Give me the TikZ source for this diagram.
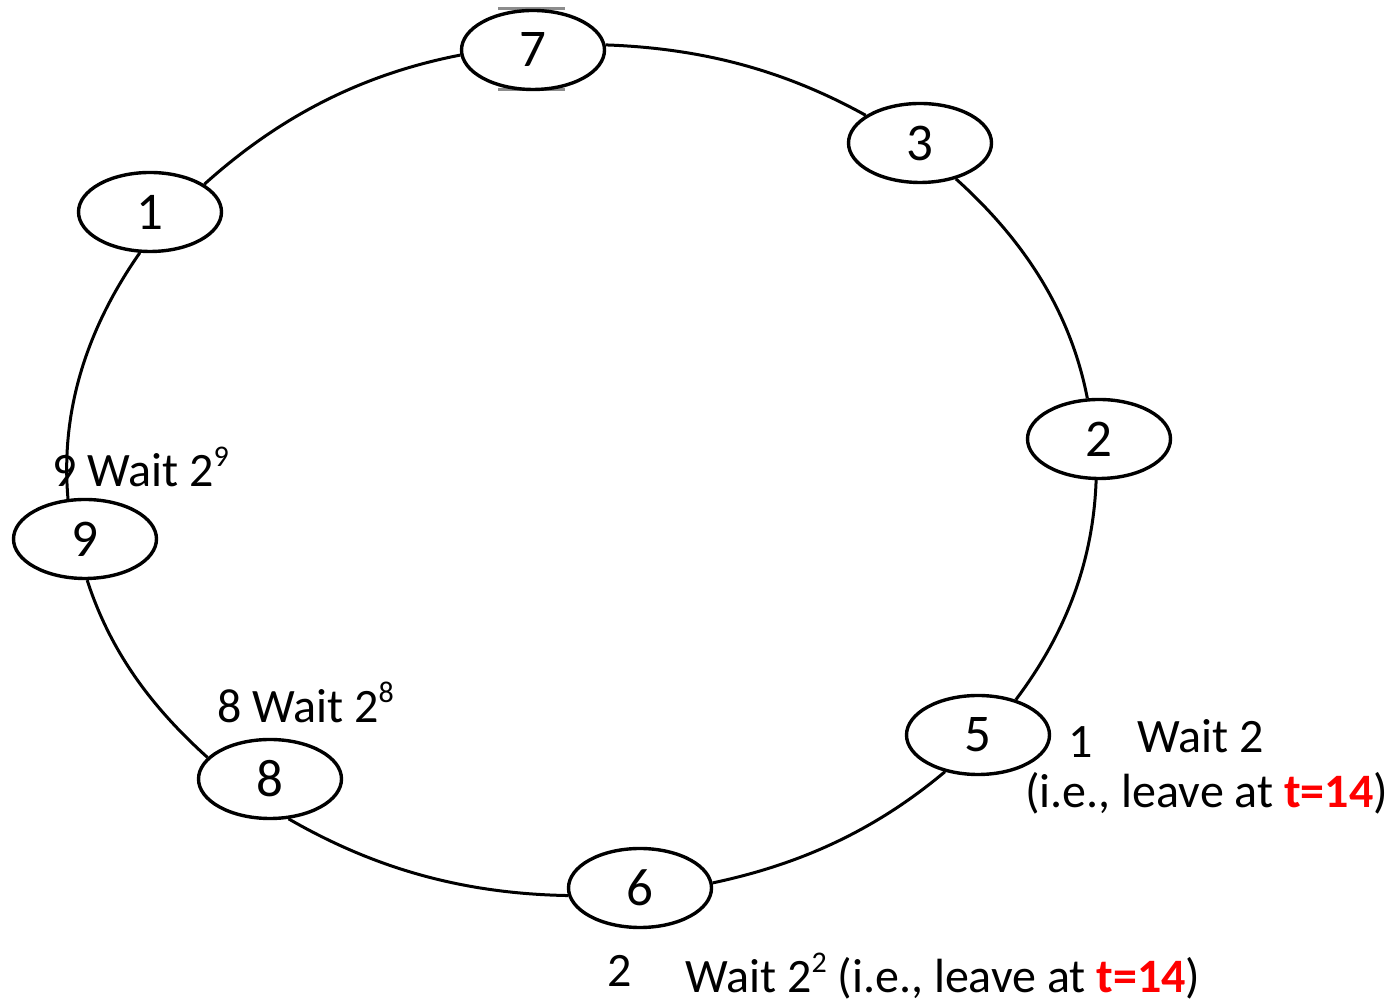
\documentclass[tikz,border=0pt]{standalone}
\usepackage{fontspec}
\setmainfont{Carlito}
\usetikzlibrary{shapes.geometric}
\definecolor{tred}{RGB}{255,0,0}
\definecolor{artifact}{RGB}{140,140,140}
\newcommand{\mysup}[1]{\raisebox{0.42em}{\fontsize{30}{30}\selectfont #1}}
\newcommand{\lowr}[1]{\raisebox{-3pt}{#1}}
\begin{document}
\begin{tikzpicture}[x=1pt,y=1pt,
  ringnode/.style={ellipse, draw, line width=3.4pt, minimum width=143pt, minimum height=79pt, inner sep=0pt, font=\fontsize{53}{60}\selectfont},
  link/.style={line width=3pt, looseness=0.9},
  note/.style={anchor=base west, inner sep=0pt, font=\fontsize{48}{58}\selectfont}]
\useasboundingbox (0,0) rectangle (1399,1008);
% selection artefacts around node 7
\draw[artifact, line width=2.5pt] (498,999.5) -- (565,999.5);
\draw[artifact, line width=2.5pt] (498,918.5) -- (565,918.5);
% ring nodes
\node[ringnode] (n7) at (533,958) {\lowr{7}};
\node[ringnode] (n3) at (920,865) {\lowr{3}};
\node[ringnode] (n1) at (150,796) {\lowr{1}};
\node[ringnode] (n2) at (1099,569) {\lowr{2}};
\node[ringnode] (n9) at (85,469) {\lowr{9}};
\node[ringnode] (n5) at (978,273) {\lowr{5}};
\node[ringnode] (n8) at (270,229) {\lowr{8}};
\node[ringnode] (n6) at (640,120) {\lowr{6}};
% ring connectors
\draw[link] (n7.4) to[out=-2,in=151] (n3.153);
\draw[link] (n3.-45) to[out=-42,in=101] (n2.106);
\draw[link] (n2.-94) to[out=-92,in=53] (n5.43);
\draw[link] (n5.228) to[out=-140,in=12] (n6.4);
\draw[link] (n6.186) to[out=179,in=-30] (n8.-65);
\draw[link] (n8.161) to[out=138,in=-72] (n9.-87);
\draw[link] (n9.113) to[out=95,in=-125] (n1.256);
\draw[link] (n1.27) to[out=42,in=191] (n7.184);
% annotations
\node[note] (t9) at (52,521) {9 Wait 2\mysup{9}};
\node[note] (t8) at (217,285) {8 Wait 2\mysup{8}};
\node[note] (t5a) at (1068,250) {1};
\node[note] (t5b) at (1137,255) {Wait 2};
\node[note] (t5c) at (1025,200) {(i.e., leave at \textcolor{tred}{\textbf{t=14}})};
\node[note] (t6a) at (607,21) {2};
\node[note] (t6b) at (685,15) {Wait 2\mysup{2} (i.e., leave at \textcolor{tred}{\textbf{t=14}})};
\end{tikzpicture}
\end{document}
